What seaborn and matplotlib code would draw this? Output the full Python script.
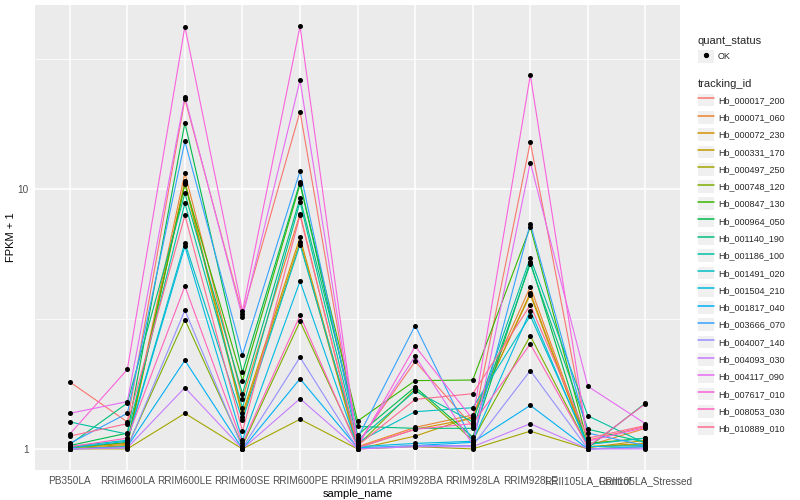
import pandas as pd
import seaborn as sns
import matplotlib
matplotlib.use("Agg")
import matplotlib.pyplot as plt
from matplotlib.lines import Line2D
from matplotlib.patches import Rectangle
from matplotlib.legend_handler import HandlerTuple

samples = ["PB350LA", "RRIM600LA", "RRIM600LE", "RRIM600SE", "RRIM600PE", "RRIM901LA",
           "RRIM928BA", "RRIM928LA", "RRIM928LE", "RRII105LA_Control", "RRII105LA_Stressed"]

tracking_ids = ["Hb_000017_200", "Hb_000071_060", "Hb_000072_230", "Hb_000331_170", "Hb_000497_250",
                "Hb_000748_120", "Hb_000847_130", "Hb_000964_050", "Hb_001140_190", "Hb_001186_100",
                "Hb_001491_020", "Hb_001504_210", "Hb_001817_040", "Hb_003666_070", "Hb_004007_140",
                "Hb_004093_030", "Hb_004117_090", "Hb_007617_010", "Hb_008053_030", "Hb_010889_010"]

# ggplot hue_pal()(20)
palette = ["#F8766D", "#EA8331", "#D89000", "#C09B00", "#A3A500", "#7CAE00", "#39B600", "#00BB4E",
           "#00BF7D", "#00C1A3", "#00BFC4", "#00BAE0", "#00B0F6", "#35A2FF", "#9590FF", "#C77CFF",
           "#E76BF3", "#FA62DB", "#FF62BC", "#FF6C91"]

# FPKM + 1 per sample, one value per tracking id (same order as tracking_ids)
pb350la = [1.81, 1.02, 1.01, 1.00, 1.00, 1.00, 1.01, 1.03, 1.04, 1.27,
           1.02, 1.01, 1.00, 1.05, 1.00, 1.00, 1.37, 1.14, 1.02, 1.12]
rrim600la = [1.27, 1.05, 1.04, 1.03, 1.00, 1.02, 1.06, 1.15, 1.50, 1.14,
             1.08, 1.07, 1.02, 1.37, 1.01, 1.01, 1.52, 2.02, 1.10, 1.25]
rrim600le = [22.1, 11.5, 10.7, 10.5, 1.37, 3.14, 10.4, 17.9, 9.6, 8.8,
             6.2, 6.0, 2.19, 15.2, 3.41, 1.72, 22.6, 42.0, 4.22, 7.9]
rrim600se = [3.30, 1.56, 1.37, 1.33, 1.00, 1.03, 1.83, 1.97, 1.63, 1.44,
             1.29, 1.08, 1.00, 2.30, 1.01, 1.00, 3.20, 3.38, 1.05, 1.17]
rrim600pe = [19.8, 8.0, 6.5, 6.25, 1.30, 3.09, 10.4, 10.6, 9.2, 8.9,
             6.1, 4.41, 1.86, 11.7, 2.25, 1.56, 26.1, 42.2, 3.26, 7.9]
rrim901la = [1.05, 1.02, 1.01, 1.00, 1.00, 1.03, 1.28, 1.13, 1.22, 1.08,
             1.06, 1.02, 1.01, 1.10, 1.00, 1.00, 1.04, 1.02, 1.01, 1.03]
rrim928ba = [2.17, 1.21, 1.19, 1.12, 1.02, 1.70, 1.83, 1.73, 1.20, 1.67,
             1.39, 1.05, 1.03, 2.98, 1.03, 1.02, 2.27, 2.48, 1.19, 1.55]
rrim928la = [1.22, 1.35, 1.31, 1.33, 1.00, 1.08, 1.84, 1.11, 1.20, 1.27,
             1.44, 1.07, 1.06, 1.06, 1.03, 1.02, 1.04, 1.30, 1.25, 1.63]
rrim928le = [15.1, 4.2, 3.98, 3.92, 1.17, 2.72, 7.13, 5.24, 5.15, 5.43,
             3.25, 3.4, 1.47, 7.35, 2.0, 1.25, 12.6, 27.3, 2.53, 3.57]
rrii105la_control = [1.08, 1.03, 1.02, 1.01, 1.00, 1.02, 1.05, 1.01, 1.19, 1.34,
                     1.04, 1.02, 1.00, 1.15, 1.00, 1.00, 1.74, 1.07, 1.02, 1.10]
rrii105la_stressed = [1.22, 1.20, 1.05, 1.08, 1.02, 1.04, 1.10, 1.50, 1.06, 1.05,
                      1.10, 1.03, 1.02, 1.03, 1.01, 1.00, 1.25, 1.21, 1.49, 1.23]

columns = [pb350la, rrim600la, rrim600le, rrim600se, rrim600pe, rrim901la,
           rrim928ba, rrim928la, rrim928le, rrii105la_control, rrii105la_stressed]

rows = []
for sample, vals in zip(samples, columns):
    for tid, v in zip(tracking_ids, vals):
        rows.append({"sample_name": sample, "tracking_id": tid, "fpkm1": v, "quant_status": "OK"})
df = pd.DataFrame(rows)
df["sample_name"] = pd.Categorical(df["sample_name"], categories=samples, ordered=True)
df["x"] = df["sample_name"].cat.codes

sns.set_theme(style="darkgrid")
plt.rcParams["font.family"] = ["Liberation Sans", "DejaVu Sans"]

fig = plt.figure(figsize=(8, 5), dpi=100)
ax = fig.add_axes([0.044, 0.06, 0.806, 0.93])
ax.set_facecolor("#EBEBEB")

sns.lineplot(data=df, x="x", y="fpkm1", hue="tracking_id", hue_order=tracking_ids,
             palette=palette, linewidth=0.8, legend=False, ax=ax, sort=False, estimator=None)
sns.scatterplot(data=df, x="x", y="fpkm1", color="black", s=13, linewidth=0, legend=False, ax=ax, zorder=3)

ax.set_yscale("log")
ax.set_ylim(10 ** -0.081, 10 ** 1.706)
ax.set_xlim(-0.6, len(samples) - 0.4)
ax.set_yticks([1, 10])
ax.set_yticklabels(["1", "10"])
ax.set_yticks([10 ** 0.5, 10 ** 1.5], minor=True)
ax.set_xticks(range(len(samples)))
ax.set_xticklabels(samples)

ax.grid(which="major", color="white", linewidth=1.1)
ax.grid(which="minor", axis="y", color="white", linewidth=0.55)
ax.grid(which="minor", axis="x", visible=False)
for s in ax.spines.values():
    s.set_visible(False)
ax.tick_params(axis="both", which="major", length=2.5, width=0.6, color="#333333",
               labelsize=7.2, labelcolor="#4D4D4D", pad=2)
ax.tick_params(axis="y", which="minor", length=0)
ax.set_xlabel("sample_name", fontsize=8, color="black", labelpad=2)
ax.set_ylabel("FPKM + 1", fontsize=8, color="black", labelpad=1)

key_bg = "#F0F0F0"

def key(line):
    return (Rectangle((0, 0), 1, 1, facecolor=key_bg, edgecolor="none"), line)

ok_handle = key(Line2D([], [], linestyle="none", marker="o", markersize=2.8, color="black"))
leg1 = fig.legend([ok_handle], ["OK"], title="quant_status", loc="upper left",
                  bbox_to_anchor=(0.862, 0.945), frameon=False, fontsize=6.5,
                  title_fontsize=8, handlelength=1.8, handleheight=1.8, handletextpad=0.45,
                  alignment="left", handler_map={tuple: HandlerTuple(ndivide=1)})

tid_handles = [key(Line2D([], [], color=c, linewidth=1.1)) for c in palette]
leg2 = fig.legend(tid_handles, tracking_ids, title="tracking_id", loc="upper left",
                  bbox_to_anchor=(0.862, 0.858), frameon=False, fontsize=6.5,
                  title_fontsize=8, handlelength=1.8, handleheight=1.8, handletextpad=0.45,
                  labelspacing=0.5, alignment="left", handler_map={tuple: HandlerTuple(ndivide=1)})

fig.savefig("out.png", dpi=100)
